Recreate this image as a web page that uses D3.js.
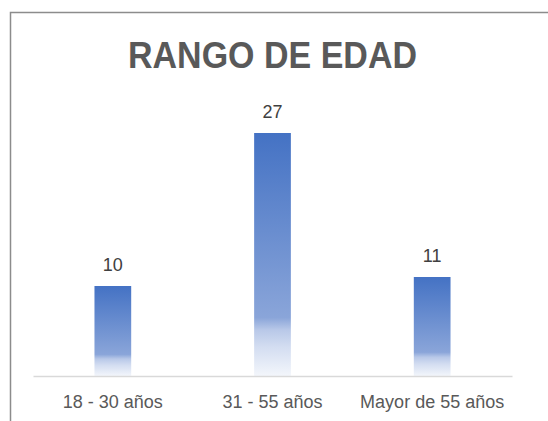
<!DOCTYPE html>
<html>
<head>
<meta charset="utf-8">
<script src="https://cdn.jsdelivr.net/npm/d3@7"></script>
<style>
  body { margin: 0; background: #fff; }
</style>
</head>
<body>
<div id="chart"></div>
<script>
const categories = ["18 - 30 años", "31 - 55 años", "Mayor de 55 años"];
const values = [10, 27, 11];
const title = "RANGO DE EDAD";

const width = 548, height = 421;

const svg = d3.select("#chart")
  .append("svg")
  .attr("width", width)
  .attr("height", height);

// gradient fill like the Excel bars
const grad = svg.append("defs").append("linearGradient")
  .attr("id", "barFill")
  .attr("x1", 0).attr("y1", 0).attr("x2", 0).attr("y2", 1);
grad.append("stop").attr("offset", "0%").attr("stop-color", "#4472c4");
grad.append("stop").attr("offset", "76%").attr("stop-color", "#8aa5d9");
grad.append("stop").attr("offset", "81%").attr("stop-color", "#b8c8e8");
grad.append("stop").attr("offset", "88%").attr("stop-color", "#d3ddf1");
grad.append("stop").attr("offset", "100%").attr("stop-color", "#f3f6fb");

// chart frame (runs off the right/bottom edge)
svg.append("rect")
  .attr("x", 10.5).attr("y", 12.5)
  .attr("width", 600).attr("height", 500)
  .attr("fill", "none")
  .attr("stroke", "#8c8c8c")
  .attr("stroke-width", 1.5);

svg.append("text")
  .attr("x", 272.5)
  .attr("y", 68)
  .attr("text-anchor", "middle")
  .attr("font-family", "Liberation Sans, Arial, sans-serif")
  .attr("font-weight", "bold")
  .attr("font-size", 37.5)
  .attr("fill", "#595959")
  .attr("textLength", 289)
  .attr("lengthAdjust", "spacingAndGlyphs")
  .text(title);

const x = d3.scaleBand()
  .domain(categories)
  .range([33, 512])
  .paddingInner(0.77)
  .paddingOuter(0.385);

const y = d3.scaleLinear()
  .domain([0, 30])
  .range([376, 106]);

svg.selectAll(".bar")
  .data(values)
  .enter()
  .append("rect")
  .attr("class", "bar")
  .attr("x", (d, i) => x(categories[i]))
  .attr("y", d => y(d))
  .attr("width", x.bandwidth())
  .attr("height", d => y(0) - y(d))
  .attr("fill", "url(#barFill)");

svg.selectAll(".label")
  .data(values)
  .enter()
  .append("text")
  .attr("class", "label")
  .attr("x", (d, i) => x(categories[i]) + x.bandwidth() / 2)
  .attr("y", d => y(d) - 15)
  .attr("text-anchor", "middle")
  .attr("font-family", "Liberation Sans, Arial, sans-serif")
  .attr("font-size", 18)
  .attr("fill", "#404040")
  .text(d => d);

const axis = svg.append("g")
  .attr("transform", `translate(0,${y(0)})`)
  .call(d3.axisBottom(x).tickSize(0).tickPadding(19));

axis.select(".domain").attr("stroke", "#d9d9d9").attr("stroke-width", 1.3);
axis.selectAll("text")
  .attr("font-family", "Liberation Sans, Arial, sans-serif")
  .attr("font-size", 18)
  .attr("fill", "#595959");
</script>
</body>
</html>
